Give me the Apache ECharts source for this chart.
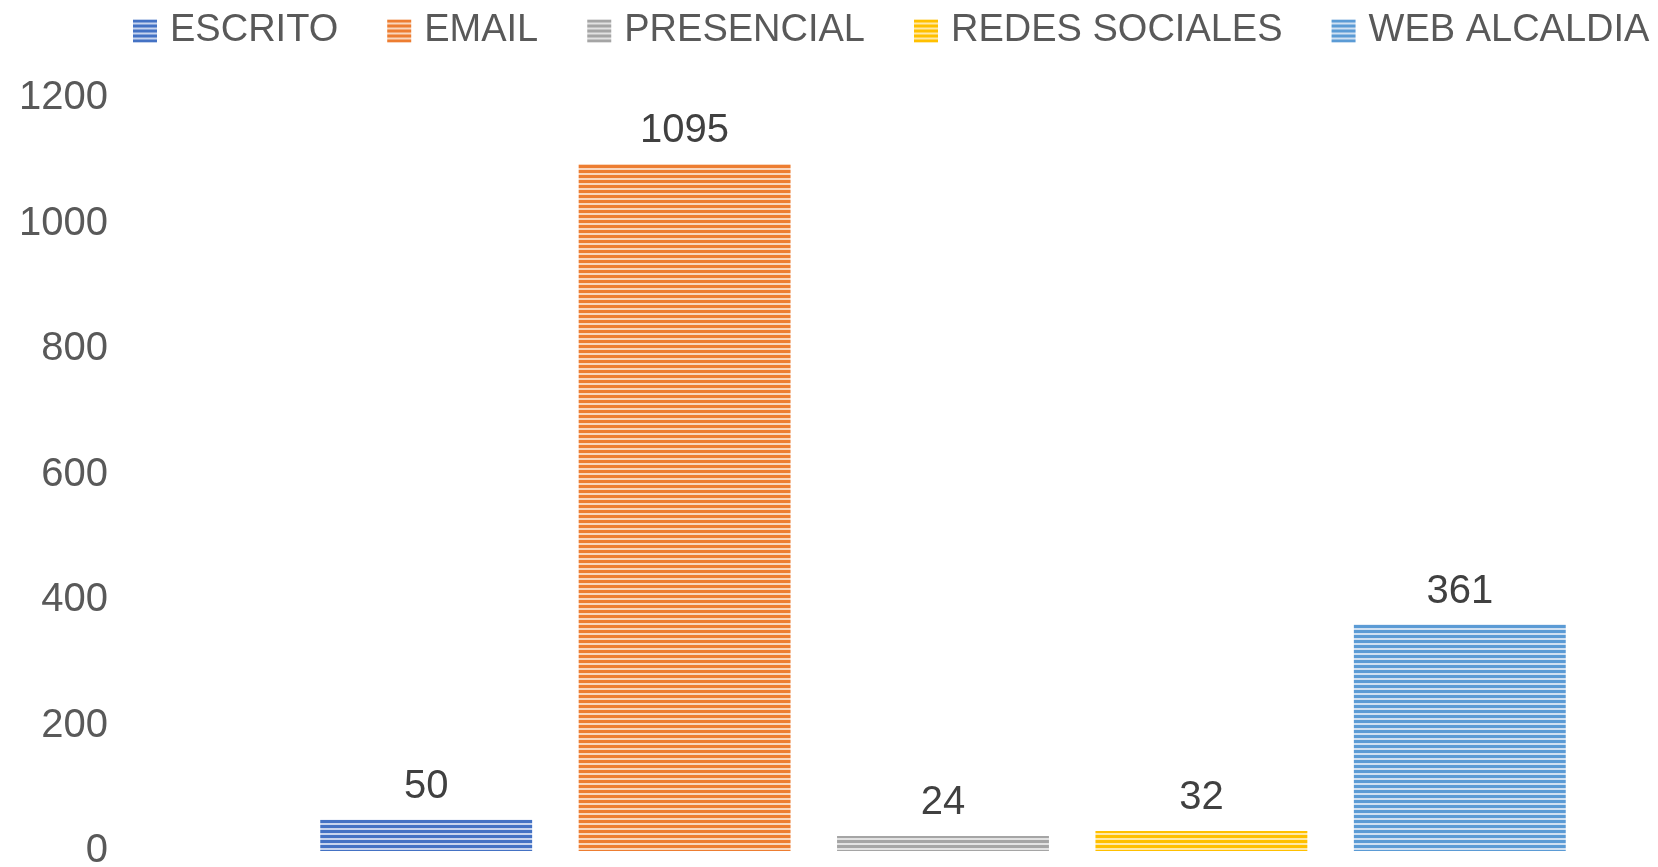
<!DOCTYPE html>
<html>
<head>
<meta charset="utf-8">
<script src="https://cdn.jsdelivr.net/npm/echarts@6/dist/echarts.min.js"></script>
<style>
html,body{margin:0;padding:0;background:#fff;}
#chart{width:1658px;height:867px;}
</style>
</head>
<body>
<div id="chart"></div>
<script>
const categories = ['ESCRITO', 'EMAIL', 'PRESENCIAL', 'REDES SOCIALES', 'WEB ALCALDIA'];
const values = [50, 1095, 24, 32, 361];
const yTicks = [0, 200, 400, 600, 800, 1000, 1200];
const colors = ['#4472C4', '#ED7D31', '#A5A5A5', '#FFC000', '#5B9BD5'];
const lightColors = ['#C7D4EE', '#F9D6BC', '#E2E2E2', '#FFE9A8', '#CFE0F2'];

function stripe(c, l) {
  const cv = document.createElement('canvas');
  cv.width = 4; cv.height = 5;
  const ctx = cv.getContext('2d');
  ctx.fillStyle = l; ctx.fillRect(0, 0, 4, 5);
  ctx.fillStyle = c; ctx.fillRect(0, 0, 4, 3);
  return {image: cv, repeat: 'repeat'};
}

const font = '"Liberation Sans", Arial, sans-serif';
const series = categories.map((name, i) => ({
  name: name,
  type: 'bar',
  stack: 'all',
  barCategoryGap: '18%',
  data: categories.map((_, j) => (j === i ? values[i] : null)),
  itemStyle: {color: stripe(colors[i], lightColors[i])},
  label: {
    show: true, position: 'top', distance: 13,
    color: '#404040', fontSize: 40, fontFamily: font
  }
}));

const chart = echarts.init(document.getElementById('chart'));
chart.setOption({
  animation: false,
  color: colors,
  legend: {
    left: 128, top: 6,
    itemWidth: 24, itemHeight: 23, itemGap: 49,
    icon: 'rect',
    textStyle: {fontSize: 38, color: '#595959', fontFamily: font, lineHeight: 40, padding: [0, 0, 0, 8]},
    data: categories
  },
  grid: {left: 297, right: 69, top: 98, bottom: 16, outerBoundsMode: 'none', containLabel: false},
  xAxis: {
    type: 'category', data: categories,
    axisLine: {show: false}, axisTick: {show: false}, axisLabel: {show: false}
  },
  yAxis: {
    type: 'value', min: yTicks[0], max: yTicks[yTicks.length - 1], interval: 200,
    splitLine: {show: false}, axisLine: {show: false}, axisTick: {show: false},
    axisLabel: {margin: 189, fontSize: 40, color: '#595959', fontFamily: font,
      padding: [6, 0, 0, 0],
      formatter: v => String(v)}
  },
  series: series
});
</script>
</body>
</html>
